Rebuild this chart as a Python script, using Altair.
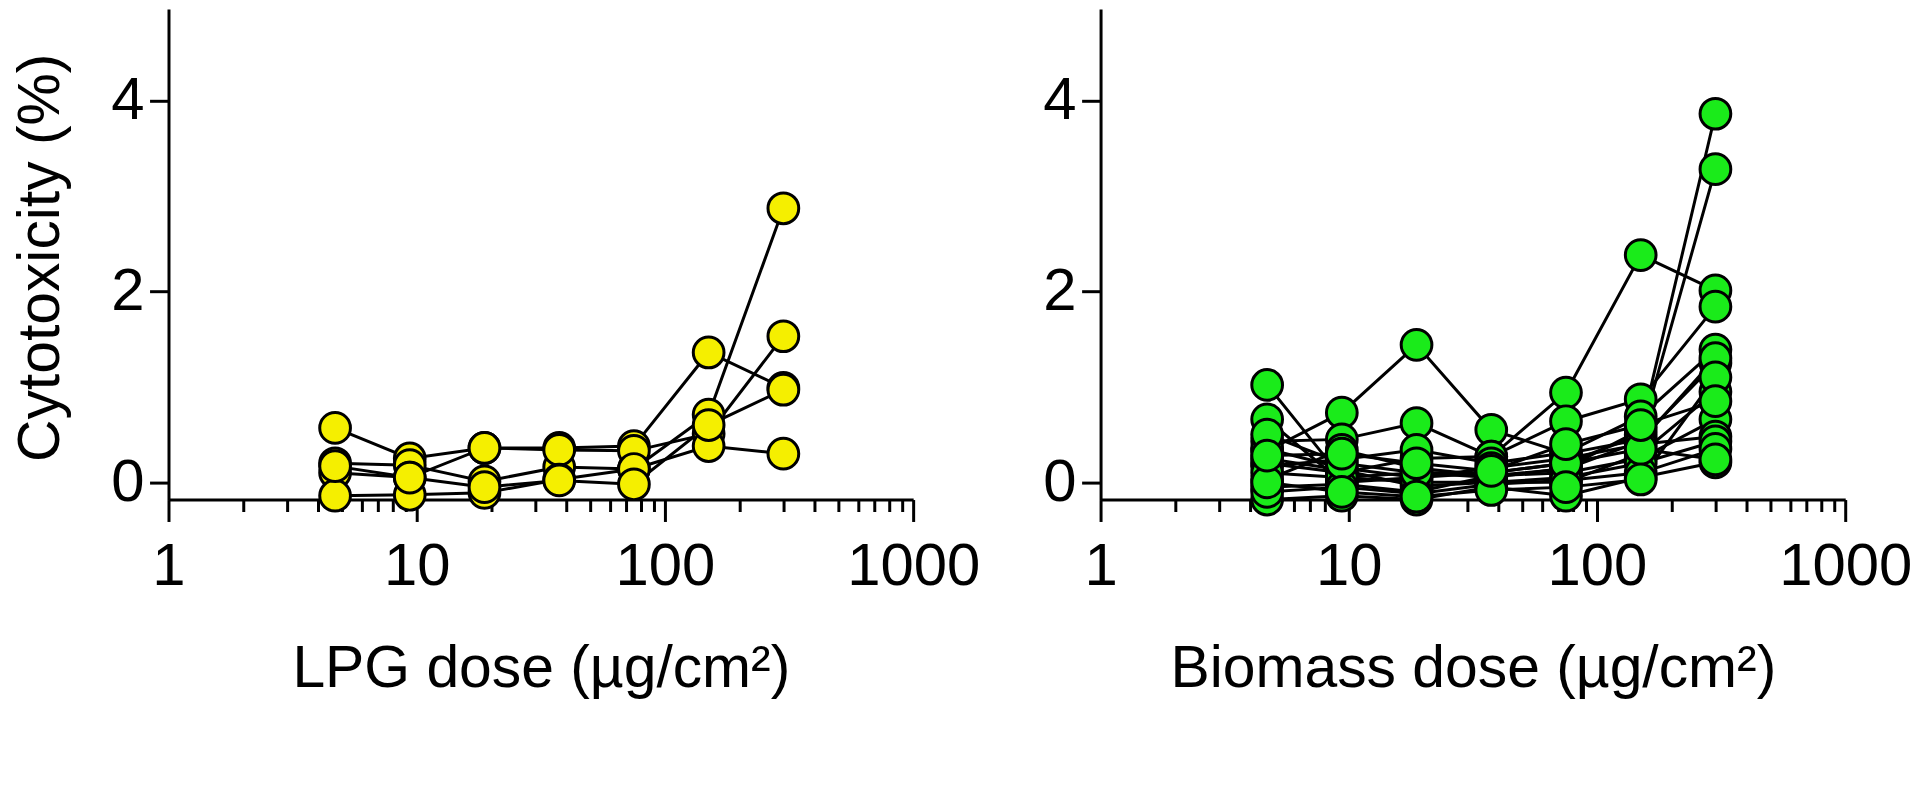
import altair as alt
import pandas as pd

# Doses (µg/cm²), two-fold dilution series
doses = [4.69, 9.375, 18.75, 37.5, 75, 150, 300]

# LPG donors (cytotoxicity %)
lpg_1 = [0.57, 0.25, 0.36, 0.36, 0.38, 1.36, 0.99]
lpg_2 = [0.20, 0.18, 0.01, 0.16, 0.14, 0.71, 2.87]
lpg_3 = [0.10, 0.05, 0.36, 0.34, 0.33, 0.51, 1.53]
lpg_4 = [-0.14, -0.13, -0.11, 0.03, 0.14, 0.38, 0.30]
lpg_5 = [0.17, 0.05, -0.05, 0.02, -0.02, 0.60, 0.97]

# Biomass donors (cytotoxicity %)
bio_1 = [0.33, 0.73, 1.44, 0.55, 0.30, 0.45, 1.25]
bio_2 = [0.20, 0.10, 0.25, 0.27, 0.94, 2.38, 2.01]
bio_3 = [1.02, 0.05, 0.10, 0.05, 0.15, 0.55, 3.86]
bio_4 = [0.66, 0.00, 0.05, 0.10, 0.20, 0.50, 3.28]
bio_5 = [0.43, 0.45, 0.62, 0.27, 0.64, 0.87, 1.84]
bio_6 = [0.17, 0.24, 0.34, 0.20, 0.31, 0.69, 1.39]
bio_7 = [0.03, 0.34, 0.15, 0.07, 0.14, 0.43, 1.30]
bio_8 = [0.25, 0.13, -0.04, 0.00, 0.00, 0.30, 0.95]
bio_9 = [-0.05, -0.02, -0.10, 0.07, 0.10, 0.25, 0.66]
bio_10 = [-0.18, -0.14, -0.18, -0.05, -0.14, 0.05, 0.21]
bio_11 = [0.35, 0.15, 0.05, 0.15, 0.25, 0.40, 0.48]
bio_12 = [0.10, 0.05, 0.00, 0.00, 0.05, 0.20, 0.43]
bio_13 = [-0.10, -0.05, -0.12, -0.02, 0.02, 0.10, 0.35]
bio_14 = [0.50, 0.20, 0.10, 0.10, 0.20, 0.35, 0.24]
bio_15 = [0.00, -0.10, -0.15, -0.08, -0.05, 0.03, 1.10]
bio_16 = [0.28, 0.30, 0.20, 0.12, 0.40, 0.60, 0.85]

lpg_series = [lpg_1, lpg_2, lpg_3, lpg_4, lpg_5]
bio_series = [bio_1, bio_2, bio_3, bio_4, bio_5, bio_6, bio_7, bio_8,
              bio_9, bio_10, bio_11, bio_12, bio_13, bio_14, bio_15, bio_16]

x_major = [1, 10, 100, 1000]
x_ticks = [1, 2, 3, 4, 5, 6, 7, 8, 9,
           10, 20, 30, 40, 50, 60, 70, 80, 90,
           100, 200, 300, 400, 500, 600, 700, 800, 900, 1000]
y_ticks = [0, 2, 4]

FONT = "Liberation Sans"


def to_frame(series_list):
    rows = []
    for i, vals in enumerate(series_list):
        for d, v in zip(doses, vals):
            rows.append({"series": i, "dose": d, "value": v})
    return pd.DataFrame(rows)


major_test = "indexof([1, 10, 100, 1000], datum.value) >= 0"


def panel(df, fill, xtitle, show_ytitle):
    xaxis = alt.Axis(
        values=x_ticks, format="d",
        labelExpr=f"{major_test} ? datum.label : ''",
        tickSize={"condition": {"test": major_test, "value": 22}, "value": 12},
        tickWidth=3, domainWidth=3, tickColor="black", domainColor="black",
        labelFontSize=60, labelPadding=16.6, labelColor="black",
        labelFlush=False, labelOverlap=False, grid=False,
        title=xtitle, titleFontSize=59, titleFontWeight="normal",
        titleColor="black", titleY=188, titleBaseline="alphabetic",
    )
    yargs = dict(
        values=y_ticks, tickSize=19, tickWidth=3, domainWidth=3,
        tickColor="black", domainColor="black",
        labelFontSize=60, labelPadding=5.5, labelColor="black",
        labelOverlap=False, grid=False,
    )
    if show_ytitle:
        yargs.update(title="Cytotoxicity (%)", titleFontSize=59,
                     titleFontWeight="normal", titleColor="black",
                     titleX=-110.3, titleY=249, titleBaseline="alphabetic")
    else:
        yargs.update(title=None)
    yaxis = alt.Axis(**yargs)

    x = alt.X("dose:Q", scale=alt.Scale(type="log", domain=[1, 1000], nice=False), axis=xaxis)
    y = alt.Y("value:Q", scale=alt.Scale(domain=[-0.18, 4.956], nice=False, zero=False), axis=yaxis)

    base = alt.Chart(df)
    lines = base.mark_line(color="black", strokeWidth=3).encode(
        x=x, y=y, detail="series:N", order="dose:Q")
    points = base.mark_circle(size=950, fill=fill, stroke="black", strokeWidth=3,
                              opacity=1, fillOpacity=1).encode(x=x, y=y)
    return alt.layer(lines, points).properties(width=747, height=492)


left = panel(to_frame(lpg_series), "#F5EF00", "LPG dose (µg/cm²)", True)
right = panel(to_frame(bio_series), "#1AEB1A", "Biomass dose (µg/cm²)", False)

chart = alt.hconcat(left, right, spacing=188, bounds="flush").properties(
    padding={"left": 3, "top": 0, "right": 0, "bottom": 0}
).configure_view(stroke=None).configure_axis(
    labelFont=FONT, titleFont=FONT
)

chart.save("out.html", embed_options={"renderer": "svg", "actions": False})
